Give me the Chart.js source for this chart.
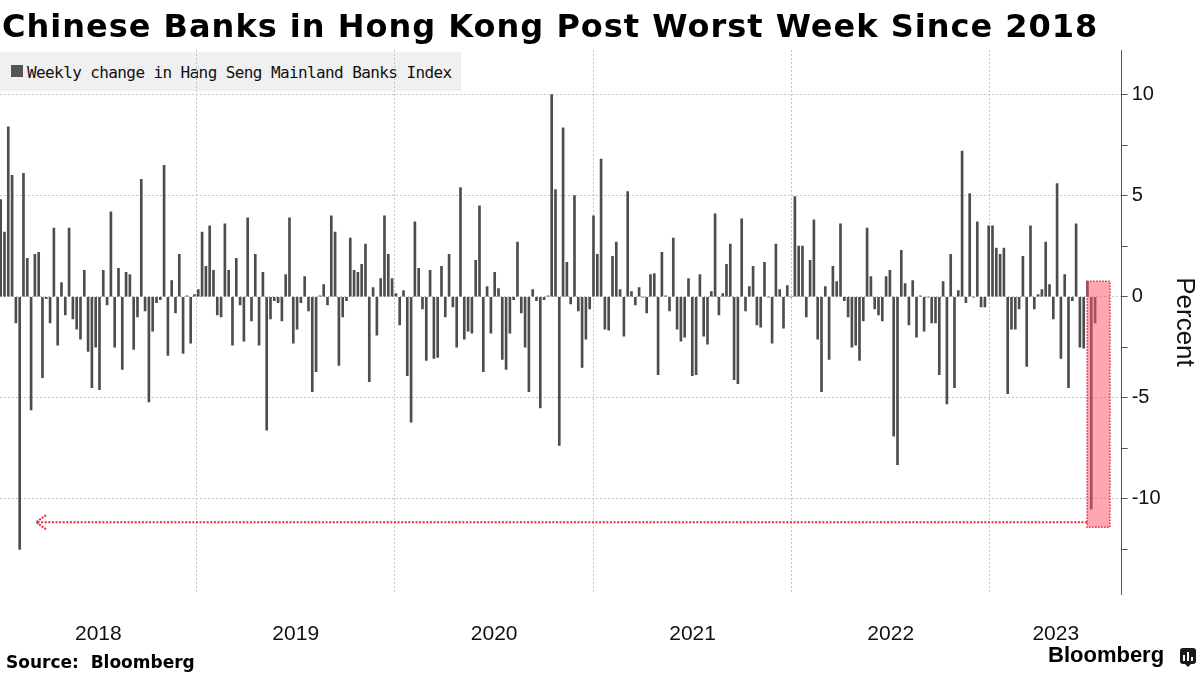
<!DOCTYPE html>
<html>
<head>
<meta charset="utf-8">
<script src="https://cdn.jsdelivr.net/npm/chart.js@4.4.0/dist/chart.umd.min.js"></script>
<style>
  html, body { margin: 0; padding: 0; background: #fff; }
  #wrap { position: relative; width: 1200px; height: 675px; overflow: hidden; }
  #title { position: absolute; left: 2px; top: 6px; font: bold 32px "DejaVu Sans"; line-height: 40px; letter-spacing: 1px; color: #000; white-space: nowrap; z-index: 3; }
  #legend { position: absolute; left: 0; top: 52px; width: 461px; height: 39px; background: #f0f0f0; z-index: 0; }
  #legend .sw { position: absolute; left: 11px; top: 13px; width: 12px; height: 12px; background: #555; }
  #legend .tx { position: absolute; left: 27px; top: 10.5px; font: 16px "DejaVu Sans Mono"; line-height: 20px; letter-spacing: -0.6px; color: #111; white-space: nowrap; }
  #chartbox { position: absolute; left: 0; top: 0; width: 1200px; height: 675px; z-index: 1; }
  #source { position: absolute; left: 6px; top: 652px; font: bold 17px "DejaVu Sans"; line-height: 20px; color: #000; white-space: pre; z-index: 3; }
  #brand { position: absolute; left: 1048px; top: 642px; font: bold 22px "Liberation Sans"; line-height: 26px; color: #000; z-index: 3; }
  #logo { position: absolute; left: 1180px; top: 648px; width: 16px; height: 16px; background: #1a1a1a; border-radius: 3px; z-index: 3; }
  #logo:after { content: ""; position: absolute; left: 5px; top: 16px; width: 0; height: 0; border-left: 3px solid transparent; border-right: 3px solid transparent; border-top: 3px solid #1a1a1a; }
  #logo i { position: absolute; bottom: 3px; width: 2px; background: #fff; }
</style>
</head>
<body>
<div id="wrap">
  <div id="title">Chinese Banks in Hong Kong Post Worst Week Since 2018</div>
  <div id="legend"><div class="sw"></div><div class="tx">Weekly change in Hang Seng Mainland Banks Index</div></div>
  <div id="chartbox"><canvas id="c" width="1200" height="675"></canvas></div>
  <div id="source">Source:  Bloomberg</div>
  <div id="brand">Bloomberg</div>
  <div id="logo"><i style="left:3px;height:6px"></i><i style="left:7px;height:9px"></i><i style="left:11px;height:4px"></i></div>
</div>
<script>
// ---- DATA ----
const seriesName = 'Weekly change in Hang Seng Mainland Banks Index';
const firstWeek = '2018-01-05';           // week ending date of the first bar
const yearLabels = ['2018', '2019', '2020', '2021', '2022', '2023'];

const weeklyChange2018 = [4.8, 3.2, 8.4, 6.0, -1.3, -12.5, 6.1, 1.9, -5.6, 2.1,
  2.2, -4.0, -0.1, -1.3, 3.4, -2.4, 0.7, -0.9, 3.4, -1.1,
  -1.6, -2.1, 1.3, -2.7, -4.5, -2.5, -4.6, 1.3, -0.4, 4.2,
  -2.5, 1.4, -3.6, 1.2, 1.1, -2.6, -1.0, 5.8, -0.7, -5.2,
  -1.7, -0.3, -0.15, 6.5, -2.9, 0.8, -0.8, 2.1, -2.8, 0.05,
  -2.3, 0.1, 0.35];
const weeklyChange2019 = [3.2, 1.5, 3.5, 1.3, -0.9, -1.0, 3.6, 1.3, -2.4, 1.9,
  -0.4, -2.2, 3.9, -1.2, 2.1, -2.4, 1.2, -6.6, -1.1, -0.2,
  -0.3, -1.2, 1.1, 3.9, -2.3, -1.6, -0.3, 1.0, -0.7, -4.7,
  -3.7, 0.05, 0.6, -0.4, 4.0, 3.2, -3.4, -1.0, -0.2, 2.9,
  1.3, 1.2, 1.6, 2.6, -4.2, 0.45, -1.9, 0.9, 4.0, 2.1,
  0.9, 0.15, -1.4];
const weeklyChange2020 = [0.3, -3.9, -6.2, 3.7, 1.4, -0.6, -3.15, 1.3, -3.05, -3.0,
  1.5, -1.0, 2.1, -0.5, -2.5, 5.4, -2.1, -1.7, -1.8, 1.8,
  4.5, -3.7, 0.5, -1.8, 1.2, 0.4, -3.1, -3.6, -1.8, -0.15,
  2.7, -0.8, -2.5, -4.7, 0.35, -0.2, -5.5, -0.15, 0.05, 10.0,
  5.3, -7.35, 8.35, 1.7, -0.35, 5.0, -0.7, -3.5, -2.1, -0.6,
  4.0, 2.1];
const weeklyChange2021 = [6.8, -1.6, -1.65, 2.0, 2.7, 0.35, -1.95, 5.2, 0.25, -0.4,
  0.45, -0.02, -0.8, 1.1, 1.15, -3.85, 2.2, 0.05, -0.7, 2.9,
  -1.6, -2.2, -2.0, 0.9, -3.9, -3.85, 1.1, -1.95, -2.35, 0.25,
  4.1, -0.9, 0.15, 1.6, 2.6, -4.1, -4.3, 3.85, -0.7, 0.5,
  1.5, -1.4, -1.5, 1.7, -0.02, -2.3, 2.6, 0.35, -1.55, 0.55,
  -0.02, 4.95, 2.5];
const weeklyChange2022 = [2.5, -1.0, 1.8, 3.8, -2.1, -4.7, 0.5, -3.1, 1.5, 0.75,
  3.6, -0.2, -1.0, -2.5, -2.4, -3.15, -1.2, 3.4, 1.0, -0.6,
  -0.9, -1.2, 1.0, 1.3, -6.9, -8.3, 2.3, 0.65, -1.4, 0.8,
  -2.0, 0.05, -1.7, -0.02, -1.3, -1.3, -3.85, 0.75, -5.3, 2.1,
  -4.5, 0.3, 7.2, -0.3, 5.1, -0.02, 3.7, -0.5, -0.5, 3.5,
  3.5, 2.4];
const weeklyChange2023 = [2.1, 2.4, -4.8, -1.6, -1.6, -0.6, 2.0, -3.45, 3.5, -0.6,
  0.1, 0.35, 2.7, 0.6, -1.1, 5.6, -3.05, 1.1, -4.5, -0.2,
  3.6, -2.5, -2.55, 0.75, -10.5, -1.3];

const yTickValues = [-12.5, -10, -7.5, -5, -2.5, 0, 2.5, 5, 7.5, 10];
const yLabelValues = [-10, -5, 0, 5, 10];

// highlight of the latest weeks and the arrow back to the 2018 low (data units)
const highlightWeekFrom = 285.9, highlightWeekTo = 291.9;
const highlightTop = 0.76, highlightBottom = -11.4;
const arrowLevel = -11.15, arrowToWeek = 9.3;

// ---- BUILD ----
const values = [].concat(weeklyChange2018, weeklyChange2019, weeklyChange2020,
                         weeklyChange2021, weeklyChange2022, weeklyChange2023);
const points = values.map((v, i) => ({ x: i, y: v }));

const DAY = 86400000;
const t0 = Date.parse(firstWeek + 'T00:00:00Z');
const weekPos = (y, m, d) => (Date.UTC(y, m, d) - t0) / (7 * DAY);
const xMin = -0.18, xMax = 295.0;

const xTicks = [];
yearLabels.forEach((lab, k) => {
  const yr = parseInt(lab, 10);
  const b0 = weekPos(yr, 0, 1), b1 = weekPos(yr + 1, 0, 1);
  if (b0 > xMin) xTicks.push({ value: b0, boundary: true, year: '' });
  const lo = Math.max(b0, xMin), hi = Math.min(b1, xMax);
  xTicks.push({ value: (lo + hi) / 2, boundary: false, year: lab });
});
xTicks.sort((a, b) => a.value - b.value);

const annot = {
  id: 'annot',
  afterDatasetsDraw(chart) {
    const { ctx, scales: { x, y } } = chart;
    const x0 = x.getPixelForValue(highlightWeekFrom), x1 = x.getPixelForValue(highlightWeekTo);
    const y0 = y.getPixelForValue(highlightTop), y1 = y.getPixelForValue(highlightBottom);
    ctx.save();
    ctx.fillStyle = 'rgba(255,85,110,0.52)';
    ctx.fillRect(x0, y0, x1 - x0, y1 - y0);
    ctx.strokeStyle = '#e8283c';
    ctx.lineWidth = 1.5;
    ctx.setLineDash([1.5, 1.5]);
    ctx.strokeRect(x0, y0, x1 - x0, y1 - y0);
    const ay = y.getPixelForValue(arrowLevel);
    const ax = x.getPixelForValue(arrowToWeek);
    ctx.lineWidth = 2;
    ctx.setLineDash([2, 1.6]);
    ctx.beginPath(); ctx.moveTo(x0, ay); ctx.lineTo(ax, ay); ctx.stroke();
    ctx.setLineDash([2, 1.2]);
    ctx.beginPath(); ctx.moveTo(ax + 10, ay - 7); ctx.lineTo(ax, ay); ctx.lineTo(ax + 10, ay + 7); ctx.stroke();
    ctx.restore();
  }
};

new Chart(document.getElementById('c'), {
  type: 'bar',
  data: {
    datasets: [{
      label: seriesName,
      data: points,
      backgroundColor: '#4d4d4d',
      borderWidth: 0,
      barThickness: 2
    }]
  },
  options: {
    responsive: false,
    animation: false,
    layout: { padding: { top: 50, left: 0, right: 0, bottom: 0 } },
    plugins: { legend: { display: false }, tooltip: { enabled: false } },
    scales: {
      x: {
        type: 'linear',
        min: xMin, max: xMax,
        offset: false,
        afterBuildTicks: s => { s.ticks = xTicks.map(t => Object.assign({}, t)); },
        afterFit: s => { s.height = 81; },
        grid: {
          drawTicks: false,
          offset: false,
          color: c => (c.tick && c.tick.boundary) ? '#c4c4c4' : 'rgba(0,0,0,0)',
          lineWidth: 1
        },
        border: { display: false, dash: [2, 2] },
        ticks: {
          autoSkip: false, maxRotation: 0, minRotation: 0,
          padding: 28,
          color: '#111',
          font: { family: 'Liberation Sans', size: 21 },
          callback: (v, i, ticks) => ticks[i].year
        }
      },
      y: {
        position: 'right',
        min: -14.7, max: 12.2,
        afterBuildTicks: s => { s.ticks = yTickValues.map(v => ({ value: v })); },
        afterFit: s => { s.width = 78.3; },
        grid: {
          color: c => (c.tick && yLabelValues.includes(c.tick.value)) ? '#c4c4c4' : 'rgba(0,0,0,0)',
          lineWidth: 1,
          drawTicks: true,
          tickLength: 6,
          tickColor: '#555',
          tickWidth: 1
        },
        border: { display: true, color: '#555', width: 1, dash: [2, 2] },
        ticks: {
          padding: 4,
          color: '#111',
          font: { family: 'Liberation Sans', size: 20 },
          callback: v => yLabelValues.includes(v) ? String(v) : ''
        },
        title: {
          display: true, text: 'Percent', color: '#111',
          font: { family: 'Liberation Sans', size: 26 },
          padding: 0
        }
      }
    }
  },
  plugins: [annot]
});
</script>
</body>
</html>
